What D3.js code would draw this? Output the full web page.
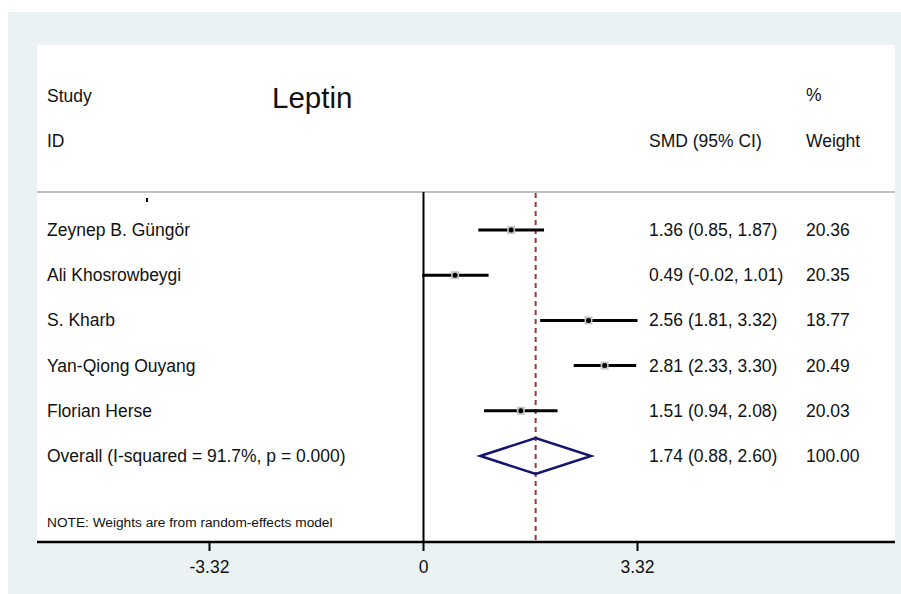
<!DOCTYPE html>
<html>
<head>
<meta charset="utf-8">
<script src="https://cdn.jsdelivr.net/npm/d3@7"></script>
<style>
  body { margin: 0; background: #fff; }
  svg text { font-family: "Liberation Sans", Arial, sans-serif; fill: #111; }
</style>
</head>
<body>
<div id="chart"></div>
<script>
const studies = ['Zeynep B. Güngör', 'Ali Khosrowbeygi', 'S. Kharb', 'Yan-Qiong Ouyang', 'Florian Herse'];
const smd = [1.36, 0.49, 2.56, 2.81, 1.51];
const lower = [0.85, -0.02, 1.81, 2.33, 0.94];
const upper = [1.87, 1.01, 3.32, 3.30, 2.08];
const weights = ['20.36', '20.35', '18.77', '20.49', '20.03'];
const overallLabel = 'Overall (I-squared = 91.7%, p = 0.000)';
const overall = { est: 1.74, lo: 0.88, hi: 2.60, weight: '100.00' };
const tickValues = [-3.32, 0, 3.32];

const W = 901, H = 594;
const FS = 17.5;
const svg = d3.select('#chart').append('svg').attr('width', W).attr('height', H);

// outer background + plot panel
svg.append('rect').attr('x', 8).attr('y', 12).attr('width', W - 8).attr('height', H - 12).attr('fill', '#eaf2f3');
svg.append('rect').attr('x', 37).attr('y', 45).attr('width', 858).attr('height', 497).attr('fill', '#fff');

const x = d3.scaleLinear().domain([-3.32, 3.32]).range([209.5, 637.5]);
const y = d3.scaleLinear().domain([0, 5]).range([230, 456]);
// stata prints a plain hyphen for negatives
const fmt = v => d3.format('.2f')(v).replace('\u2212', '-');

// header
svg.append('text').attr('x', 47).attr('y', 102).attr('font-size', FS).text('Study');
svg.append('text').attr('x', 47).attr('y', 147).attr('font-size', FS).text('ID');
svg.append('text').attr('x', 272).attr('y', 108).attr('font-size', 29.5).text('Leptin');
svg.append('text').attr('x', 649).attr('y', 147).attr('font-size', FS).text('SMD (95% CI)');
svg.append('text').attr('x', 806).attr('y', 101).attr('font-size', FS).text('%');
svg.append('text').attr('x', 806).attr('y', 147).attr('font-size', FS).text('Weight');

svg.append('line').attr('x1', 37).attr('x2', 895).attr('y1', 192).attr('y2', 192)
  .attr('stroke', '#c0c0c0').attr('stroke-width', 2);
svg.append('line').attr('x1', 147).attr('x2', 147).attr('y1', 198).attr('y2', 202)
  .attr('stroke', '#000').attr('stroke-width', 2);

// null line and overall line
svg.append('line').attr('x1', x(0)).attr('x2', x(0)).attr('y1', 192).attr('y2', 542)
  .attr('stroke', '#000').attr('stroke-width', 2);
svg.append('line').attr('x1', x(overall.est)).attr('x2', x(overall.est)).attr('y1', 193).attr('y2', 542)
  .attr('stroke', '#933a3a').attr('stroke-width', 2).attr('stroke-dasharray', '5,4');

// study rows
const rows = studies.map((s, i) => ({ name: s, est: smd[i], lo: lower[i], hi: upper[i], w: weights[i], i }));
const g = svg.append('g');
g.selectAll('.ci').data(rows).enter().append('line')
  .attr('x1', d => x(d.lo)).attr('x2', d => x(d.hi))
  .attr('y1', d => y(d.i)).attr('y2', d => y(d.i))
  .attr('stroke', '#000').attr('stroke-width', 3);
g.selectAll('.box').data(rows).enter().append('rect')
  .attr('x', d => x(d.est) - 4).attr('y', d => y(d.i) - 4)
  .attr('width', 8).attr('height', 8).attr('fill', '#c4c4c4');
g.selectAll('.pt').data(rows).enter().append('circle')
  .attr('cx', d => x(d.est)).attr('cy', d => y(d.i)).attr('r', 2.5).attr('fill', '#000');

g.selectAll('.name').data(rows).enter().append('text')
  .attr('x', 47).attr('y', d => y(d.i) + 6).attr('font-size', FS).text(d => d.name);
g.selectAll('.est').data(rows).enter().append('text')
  .attr('x', 649).attr('y', d => y(d.i) + 6).attr('font-size', FS)
  .text(d => `${fmt(d.est)} (${fmt(d.lo)}, ${fmt(d.hi)})`);
g.selectAll('.wt').data(rows).enter().append('text')
  .attr('x', 806).attr('y', d => y(d.i) + 6).attr('font-size', FS).text(d => d.w);

// overall diamond
const yo = y(5);
svg.append('polygon')
  .attr('points', [[x(overall.lo), yo], [x(overall.est), yo - 18], [x(overall.hi), yo], [x(overall.est), yo + 18]].join(' '))
  .attr('fill', 'none').attr('stroke', '#14146e').attr('stroke-width', 2.5);
svg.append('text').attr('x', 47).attr('y', yo + 6).attr('font-size', FS).text(overallLabel);
svg.append('text').attr('x', 649).attr('y', yo + 6).attr('font-size', FS)
  .text(`${fmt(overall.est)} (${fmt(overall.lo)}, ${fmt(overall.hi)})`);
svg.append('text').attr('x', 806).attr('y', yo + 6).attr('font-size', FS).text(overall.weight);

svg.append('text').attr('x', 47).attr('y', 527).attr('font-size', 13.7).text('NOTE: Weights are from random-effects model');

// x axis
const axis = svg.append('g').attr('transform', 'translate(0,542)');
axis.append('line').attr('x1', 37).attr('x2', 895).attr('stroke', '#000').attr('stroke-width', 2.5);
axis.selectAll('.tick').data(tickValues).enter().append('line')
  .attr('x1', d => x(d)).attr('x2', d => x(d)).attr('y1', 0).attr('y2', 9)
  .attr('stroke', '#000').attr('stroke-width', 2);
axis.selectAll('.tl').data(tickValues).enter().append('text')
  .attr('x', d => x(d)).attr('y', 31).attr('text-anchor', 'middle').attr('font-size', FS)
  .text(d => d === 0 ? '0' : fmt(d));
</script>
</body>
</html>
